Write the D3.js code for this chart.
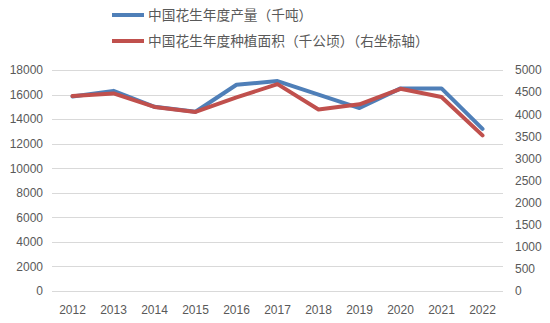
<!DOCTYPE html>
<html><head><meta charset="utf-8">
<script src="https://cdn.jsdelivr.net/npm/d3@7/dist/d3.min.js"></script>
<style>
html,body{margin:0;padding:0;background:#fff;}
svg{display:block;}
</style></head>
<body>
<svg id="chart" width="550" height="323"></svg>
<script>
const years = ["2012","2013","2014","2015","2016","2017","2018","2019","2020","2021","2022"];
const production = [15850,16300,15000,14600,16800,17100,16000,14900,16500,16500,13200];
const area = [4410,4470,4165,4050,4380,4680,4105,4225,4575,4390,3520];
const leftTicks = [0,2000,4000,6000,8000,10000,12000,14000,16000,18000];
const rightTicks = [0,500,1000,1500,2000,2500,3000,3500,4000,4500,5000];
const seriesNames = ["中国花生年度产量（千吨）","中国花生年度种植面积（千公顷）（右坐标轴）"];
const colors = ["#4f7fb8","#c0504d"];

const svg = d3.select("#chart");
const L = 52, R = 503, T = 70, B = 291;
const x = d3.scaleBand().domain(years).range([L, R]);
const yL = d3.scaleLinear().domain([0,18000]).range([B, T]);
const yR = d3.scaleLinear().domain([0,5000]).range([B, T]);
const tickFont = "'Liberation Sans', Arial, sans-serif";

// gridlines
svg.append("g").selectAll("line").data(leftTicks).join("line")
  .attr("x1", L).attr("x2", R)
  .attr("y1", d => Math.round(yL(d)) + 0.5).attr("y2", d => Math.round(yL(d)) + 0.5)
  .attr("stroke", "#d9d9d9").attr("stroke-width", 1);

// left axis
const gl = svg.append("g").attr("transform", `translate(${L - 9},0)`)
  .call(d3.axisLeft(yL).tickValues(leftTicks).tickSize(0).tickPadding(0).tickFormat(d3.format("d")));
gl.select(".domain").remove();
gl.selectAll("text").attr("fill", "#595959").style("font-family", tickFont).style("font-size", "12px");

// right axis
const gr = svg.append("g").attr("transform", `translate(${R + 12},0)`)
  .call(d3.axisRight(yR).tickValues(rightTicks).tickSize(0).tickPadding(0).tickFormat(d3.format("d")));
gr.select(".domain").remove();
gr.selectAll("text").attr("fill", "#595959").style("font-family", tickFont).style("font-size", "12px");

// bottom axis
const gb = svg.append("g").attr("transform", `translate(0,${B + 12})`)
  .call(d3.axisBottom(x).tickSize(0).tickPadding(2));
gb.select(".domain").remove();
gb.selectAll("text").attr("fill", "#595959").style("font-family", tickFont).style("font-size", "12px");

const cx = d => x(d) + x.bandwidth() / 2;

const lineL = d3.line().x((d,i) => cx(years[i])).y(d => yL(d));
const lineR = d3.line().x((d,i) => cx(years[i])).y(d => yR(d));

svg.append("path").datum(production).attr("d", lineL)
  .attr("fill", "none").attr("stroke", colors[0]).attr("stroke-width", 4)
  .attr("stroke-linejoin", "round").attr("stroke-linecap", "round");
svg.append("path").datum(area).attr("d", lineR)
  .attr("fill", "none").attr("stroke", colors[1]).attr("stroke-width", 4)
  .attr("stroke-linejoin", "round").attr("stroke-linecap", "round");

// legend
const legY = [15, 41];
const lg = svg.append("g");
seriesNames.forEach((name, i) => {
  lg.append("line").attr("x1", 112).attr("x2", 144).attr("y1", legY[i]).attr("y2", legY[i])
    .attr("stroke", colors[i]).attr("stroke-width", 4);
  lg.append("text").attr("x", 148).attr("y", legY[i]).attr("dy", "0.36em")
    .attr("fill", "#595959").style("font-family", "'Noto Sans CJK SC', sans-serif")
    .style("font-size", "13.7px").text(name);
});
</script>
</body></html>
